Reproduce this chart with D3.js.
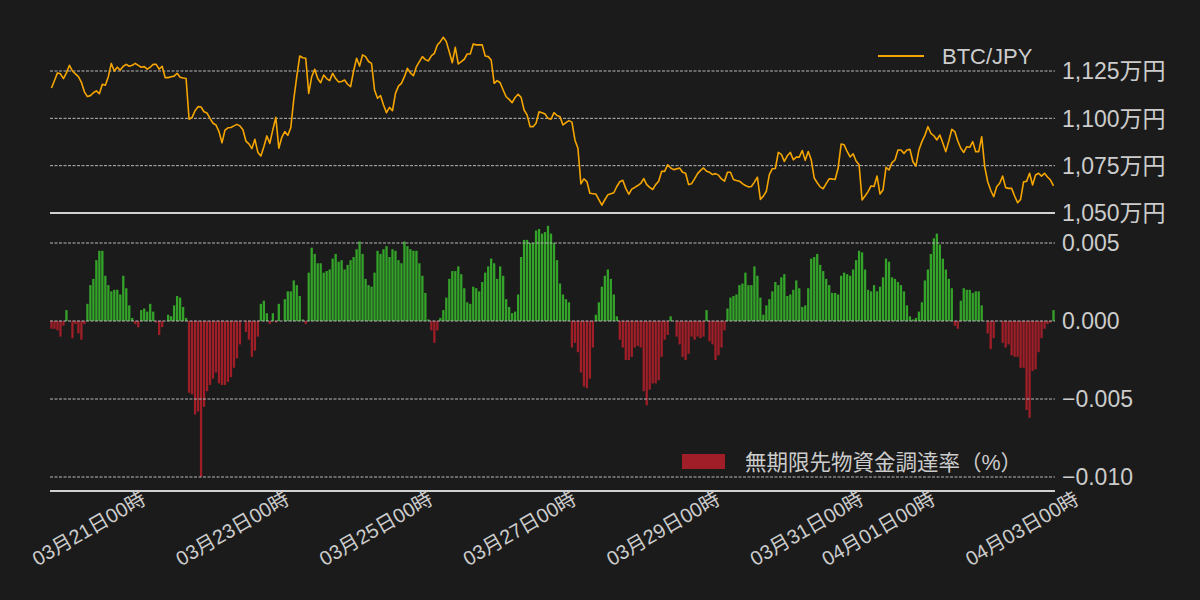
<!DOCTYPE html>
<html><head><meta charset="utf-8">
<script src="https://cdnjs.cloudflare.com/ajax/libs/d3/7.8.5/d3.min.js"></script>
<style>
html,body{margin:0;padding:0;background:#1b1b1b;}
svg{display:block;}
text{font-family:"Liberation Sans","Noto Sans CJK JP",sans-serif;}
</style></head><body>
<svg id="chart" width="1200" height="600"></svg>
<script>
// hourly series starting 2024-03-19 17:00, 336 points
const startTime = Date.UTC(2024, 2, 19, 17);

// BTC/JPY price (万円)
const price = [
1116,1120,1124,1123.5,1121,1124,1128,1125,1123.5,1122,1119,1114,1111.5,1112,1113.5,1114.5,1113,1118,1117.5,1122,1129,1125,1127,1125.5,
1127.5,1128.5,1127.5,1128,1129,1128,1127,1127.3,1126,1127,1128.5,1128.5,1126,1127.5,1121.5,1121.5,1122,1122.3,1123.8,1121.7,1121.3,1121,1099.5,1100.5,
1104,1106.2,1106,1103.5,1102.8,1100,1097.4,1096.5,1093,1087.1,1093.8,1095,1095.2,1096,1096.8,1096,1094,1088,1086.5,1084,1088.9,1082,1080.1,1085,
1090.7,1086.8,1094,1100.5,1084.2,1090,1093,1091,1095,1110,1122,1132.9,1132,1131.7,1113.2,1122,1125.9,1121,1118.8,1122.9,1121,1119.9,1123.8,1121,
1119.2,1119.5,1120.2,1118,1116.7,1125,1131.7,1127.6,1133.5,1132.6,1130,1129,1115,1110.6,1112,1107,1103,1105.8,1104,1113.2,1117,1118.5,1122,1126.4,
1124,1122.5,1127.3,1130,1132.6,1131,1130.3,1133,1134.3,1138.7,1140.5,1142.8,1140.5,1135,1129.4,1137.5,1128.7,1130,1131.2,1134,1134,1139.3,1138.8,1138.8,
1138.8,1132.9,1132.6,1130.8,1118.5,1119.9,1118.8,1115,1111.4,1110,1108.3,1111,1112.7,1111.1,1104.4,1101.8,1095.6,1095.6,1097.4,1103.5,1103,1102.3,1100,1099.5,
1103,1101.5,1100.9,1096.5,1097.7,1098.8,1098,1088.6,1084.2,1065.4,1068,1066.6,1060.4,1060.2,1060,1057,1054.1,1057,1059.6,1060.2,1060.7,1064,1066.5,1067.3,
1063,1059.9,1062.6,1063.5,1064.5,1065.6,1068.2,1065,1063.5,1062.4,1065,1066.8,1072,1072,1075.5,1073.8,1072.9,1073.3,1073.8,1071.5,1071,1065,1065.5,1068,
1070.8,1072.5,1073.8,1072,1071.5,1070.3,1070.8,1070,1068,1066.8,1071.5,1071.5,1067.7,1067.2,1066.8,1065.5,1064.5,1063.8,1064,1066.3,1068.9,1057.2,1058.9,1061.5,
1070.3,1073.4,1073.5,1082,1081,1077.3,1080.2,1082,1078.1,1079.5,1079.5,1083,1077.8,1082.5,1078.1,1068.5,1066,1063.8,1062.8,1065.5,1068,1068,1067.7,1073.8,
1086.4,1086,1082.5,1079.6,1081.3,1077.5,1075.5,1056.9,1059,1061.3,1064.3,1064,1069.5,1060,1062.1,1074.1,1072.7,1076.6,1078,1083.3,1083.3,1081.5,1083.3,1083.6,
1077.1,1074.8,1083.3,1087.7,1091,1095.6,1092.1,1090.8,1088.6,1091.2,1087,1082.4,1088,1094.2,1093,1088,1084.2,1082,1085,1084.7,1087.7,1082.4,1082.4,1090.3,
1074.5,1066.5,1062,1058.6,1063.9,1065.7,1069.5,1063.4,1063,1063,1059,1055.4,1057.2,1066.5,1066.7,1071,1064.8,1070.1,1071,1069.5,1071,1069,1067.4,1064.3
];

// perpetual futures funding rate (%)
const funding = [
-0.0005,-0.0005,-0.0006,-0.0010,-0.0003,0.0007,0,-0.0011,-0.0002,-0.0008,-0.0012,-0.0002,
0.0011,0.0023,0.0027,0.0039,0.0045,0.0045,0.0029,0.0023,0.0019,0.0020,0.0020,0.0017,0.0029,0.0021,0.0010,0.0002,
-0.0002,-0.0004,0.0007,0.0008,0.0006,0.0011,0.0006,-0.0001,-0.0009,-0.0004,0,0.0004,0.0003,0.0010,0.0016,0.0015,0.0009,0.0002,
-0.0046,-0.0047,-0.0060,-0.0058,-0.0100,-0.0055,-0.0045,-0.0041,-0.0037,-0.0033,-0.0040,-0.0041,-0.0041,-0.0039,-0.0036,-0.0030,-0.0024,-0.0015,
0,-0.0007,-0.0012,-0.0023,-0.0019,-0.0010,0.0011,0.0013,0.0005,-0.0002,0.0005,-0.0001,0.0011,0,
0.0014,0.0019,0.0019,0.0026,0.0023,0.0016,0.0001,-0.0002,0.0031,0.0047,0.0043,0.0037,0.0037,0.0031,0.0032,
0.0033,0.0040,0.0043,0.0038,0.0039,0.0033,0.0036,0.0039,0.0041,0.0046,
0.0051,0.0043,0.0027,0.0023,0.0022,0.0031,0.0045,0.0043,0.0046,0.0048,
0.0041,0.0046,0.0045,0.0039,0.0037,0.0051,0.0048,0.0046,0.0045,0.0045,
0.0037,0.0029,0.0018,0.0001,-0.0006,-0.0014,-0.0006,0.0002,0.0007,0.0015,
0.0027,0.0032,0.0032,0.0035,0.0030,0.0021,0.0012,0.0011,0.0022,0.0021,
0.0019,0.0025,0.0031,0.0035,0.0040,0.0037,0.0027,0.0035,0.0029,0.0014,
0.0009,0.0005,0.0006,0.0017,0.0041,0.0052,0.0052,0.0050,0.0050,0.0058,0.0059,
0.0056,0.0057,0.0061,0.0056,0.0050,0.0039,0.0024,0.0017,0.0014,0.0012,
-0.0017,-0.0014,-0.0020,-0.0033,-0.0042,-0.0043,-0.0037,-0.0017,0.0004,0.0012,
0.0022,0.0029,0.0033,0.0027,0.0017,0.0003,
-0.0012,-0.0017,-0.0025,-0.0025,-0.0023,-0.0017,-0.0016,-0.0017,-0.0045,-0.0054,-0.0044,-0.0040,-0.0040,-0.0038,-0.0023,-0.0012,-0.0009,0.0003,0,
-0.0010,-0.0015,-0.0023,-0.0025,-0.0021,-0.0010,-0.0012,-0.0010,-0.0011,-0.0010,0.0007,-0.0013,-0.0015,-0.0025,-0.0022,-0.0017,-0.0006,
0.0008,0.0015,0.0016,0.0017,0.0023,0.0024,0.0031,0.0023,0.0023,0.0035,0.0029,0.0015,0.0004,0.0010,0.0014,0.0019,0.0025,0.0023,0.0028,0.0030,
0.0016,0.0017,0.0020,0.0026,0.0021,0.0009,0.0010,0.0021,0.0040,0.0041,0.0043,0.0036,0.0032,0.0027,0.0023,0.0018,0.0018,0.0017,0.0029,0.0031,
0.0030,0.0029,0.0033,0.0039,0.0045,0.0044,0.0033,0.0020,0.0019,0.0023,0.0019,0.0022,0.0028,0.0040,0.0038,0.0028,0.0027,0.0025,0.0023,0.0019,
0.0010,0.0003,0.0001,0.0002,0.0006,
0.0012,0.0026,0.0033,0.0043,0.0053,0.0056,0.0049,0.0040,0.0033,0.0027,0.0021,-0.0003,-0.0005,
0.0013,0.0021,0.0020,0.0020,0.0018,0.0019,0.0019,0.0010,0,-0.0008,-0.0018,-0.0011,0,0,
-0.0014,-0.0017,-0.0015,-0.0022,-0.0023,-0.0023,-0.0030,-0.0030,-0.0057,-0.0062,-0.0032,-0.0031,-0.0020,-0.0011,-0.0005,-0.0002,-0.0001,0.0007
];

const priceTicks = [1050, 1075, 1100, 1125];
const fundingTicks = [-0.010, -0.005, 0.000, 0.005];
const xTickDates = ["2024-03-21","2024-03-23","2024-03-25","2024-03-27","2024-03-29","2024-03-31","2024-04-01","2024-04-03"];
const seriesNames = ["BTC/JPY", "無期限先物資金調達率（%）"];

const HOUR = 3600e3;
const times = d3.range(price.length).map(i => new Date(startTime + i * HOUR));

const svg = d3.select("#chart");
const left = 50, right = 1055;
const textColor = "#cccccc";
const green = "#34a32a", red = "#a01e28", orange = "#f5a500";

const x = d3.scaleUtc()
  .domain([new Date(startTime - HOUR / 2), new Date(startTime + (price.length - 1) * HOUR + HOUR / 2)])
  .range([left, right]);
const step = x(new Date(startTime + HOUR)) - x(new Date(startTime));
const yP = d3.scaleLinear().domain([1050, 1125]).range([213, 71]);
const yF = d3.scaleLinear().domain([-0.010, 0.005]).range([477, 243]);
const fundBottom = -0.0109;

svg.append("rect").attr("width", 1200).attr("height", 600).attr("fill", "#1b1b1b");

// funding bars
svg.append("g").selectAll("rect").data(funding.slice(0, times.length)).join("rect")
  .attr("x", (d, i) => x(times[i]) - (step - 0.7) / 2)
  .attr("width", step - 0.7)
  .attr("y", d => Math.min(yF(d), yF(0)))
  .attr("height", d => Math.abs(yF(d) - yF(0)))
  .attr("fill", d => d >= 0 ? green : red);

// grid lines
const grid = svg.append("g");
priceTicks.forEach(v => {
  grid.append("line").attr("x1", left).attr("x2", right).attr("y1", yP(v)).attr("y2", yP(v))
    .attr("stroke", v === 1050 ? "#d0d0d0" : "#b8b8b8")
    .attr("stroke-width", v === 1050 ? 2 : 1)
    .attr("stroke-dasharray", v === 1050 ? null : "3,1.5");
});
fundingTicks.forEach(v => {
  grid.append("line").attr("x1", left).attr("x2", right).attr("y1", yF(v)).attr("y2", yF(v))
    .attr("stroke", "#b8b8b8").attr("stroke-width", 1).attr("stroke-dasharray", "3,1.5");
});
grid.append("line").attr("x1", left).attr("x2", right).attr("y1", yF(fundBottom)).attr("y2", yF(fundBottom))
  .attr("stroke", "#d0d0d0").attr("stroke-width", 2);

// price line
svg.append("path").datum(price)
  .attr("fill", "none").attr("stroke", orange).attr("stroke-width", 1.6)
  .attr("stroke-linejoin", "round")
  .attr("d", d3.line().x((d, i) => x(times[i])).y(d => yP(d)));

// right axes
const fmtP = v => d3.format(",")(v) + "万円";
const fmtF = d3.format(".3f");
svg.append("g").selectAll("text").data(priceTicks).join("text")
  .attr("x", 1062).attr("y", d => yP(d)).attr("dy", "0.36em")
  .attr("fill", textColor).attr("font-size", 23).text(fmtP);
svg.append("g").selectAll("text").data(fundingTicks).join("text")
  .attr("x", 1062).attr("y", d => yF(d)).attr("dy", "0.36em")
  .attr("fill", textColor).attr("font-size", 23).text(fmtF);

// x axis labels
const fmtX = d3.utcFormat("%m月%d日%H時");
svg.append("g").selectAll("text").data(xTickDates.map(s => new Date(s + "T00:00:00Z"))).join("text")
  .attr("transform", d => `translate(${x(d) + 3},503) rotate(-30)`)
  .attr("text-anchor", "end")
  .attr("fill", textColor).attr("font-size", 20).text(fmtX);

// legends
svg.append("line").attr("x1", 878).attr("x2", 924).attr("y1", 56).attr("y2", 56)
  .attr("stroke", orange).attr("stroke-width", 2);
svg.append("text").attr("x", 942).attr("y", 56).attr("dy", "0.36em")
  .attr("fill", textColor).attr("font-size", 22).text(seriesNames[0]);
svg.append("rect").attr("x", 682).attr("y", 454).attr("width", 43).attr("height", 15).attr("fill", red);
svg.append("text").attr("x", 745).attr("y", 462).attr("dy", "0.36em")
  .attr("fill", textColor).attr("font-size", 21.5).text(seriesNames[1]);
</script>
</body></html>
